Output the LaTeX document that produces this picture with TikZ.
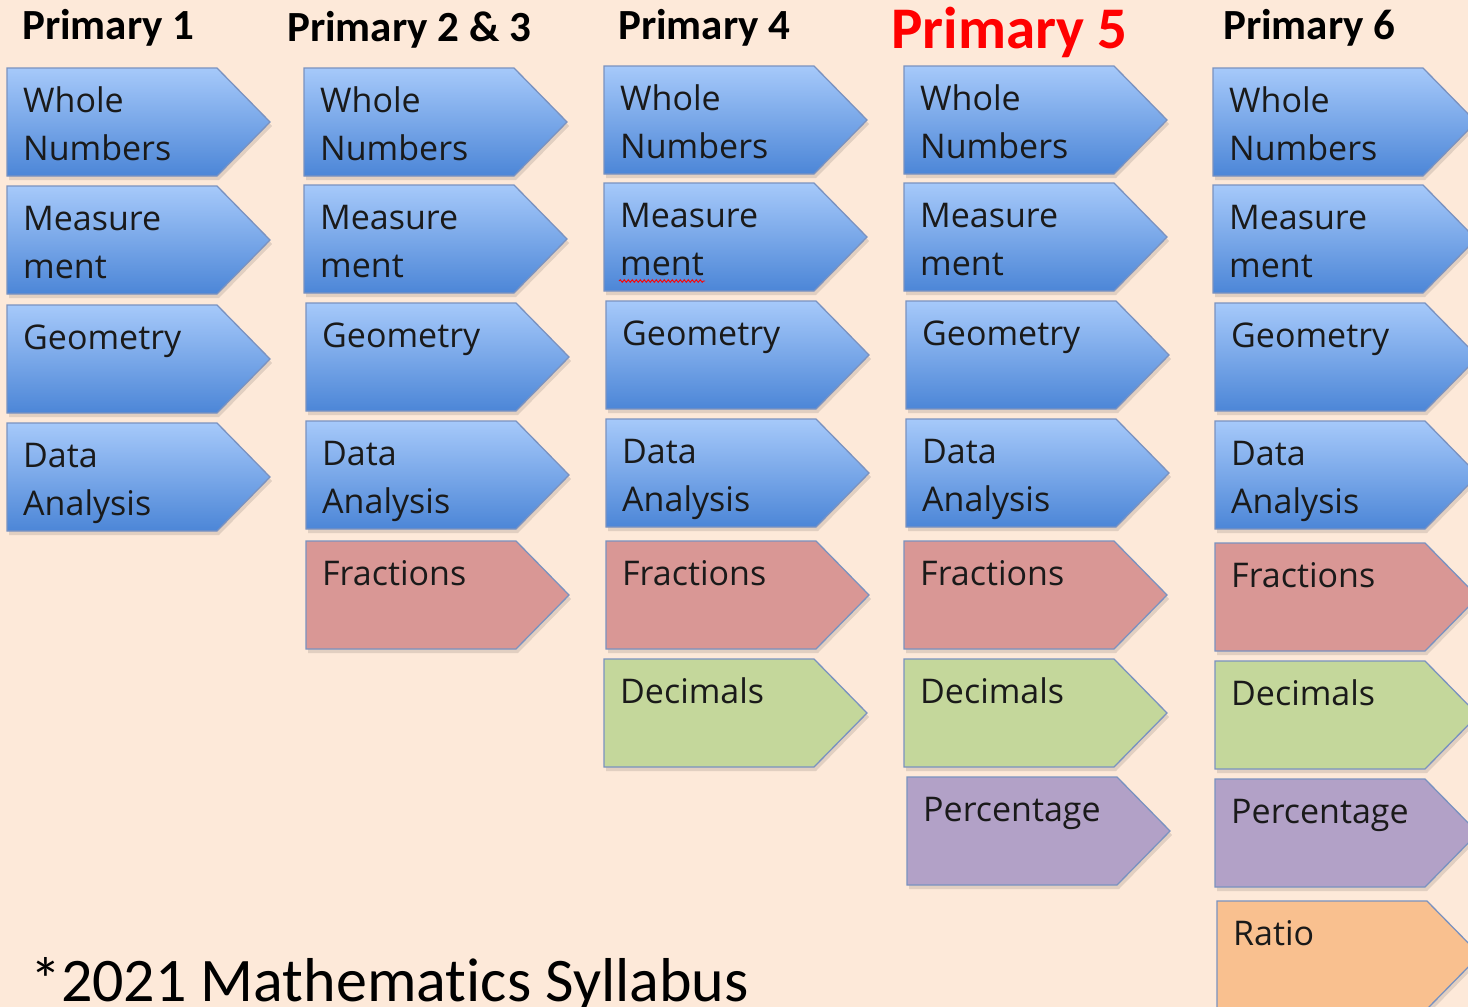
\documentclass[tikz,border=0pt]{standalone}
\usepackage{fontspec}
\setmainfont{Carlito}[Ligatures={NoCommon}]
\newfontfamily\boxfont{Open Sans}
\usetikzlibrary{decorations.pathmorphing}
\definecolor{bgc}{HTML}{FDE9D9}
\definecolor{bordc}{HTML}{7A92C0}
\definecolor{txtc}{HTML}{1A1A1A}
\definecolor{bluetop}{HTML}{A6C9FA}
\definecolor{bluemid}{HTML}{8AB4F1}
\definecolor{bluebot}{HTML}{4C86D7}
\definecolor{fraccol}{HTML}{D99795}
\definecolor{deccol}{HTML}{C4D79B}
\definecolor{perccol}{HTML}{B2A1C7}
\definecolor{ratiocol}{HTML}{F9C08F}
\definecolor{headred}{HTML}{FF0000}
\tikzset{
  bluefill/.style={top color=bluetop, middle color=bluemid, bottom color=bluebot},
  fracfill/.style={fill=fraccol},
  decfill/.style={fill=deccol},
  percfill/.style={fill=perccol},
  ratiofill/.style={fill=ratiocol},
  boxtxt/.style={anchor=north west, inner sep=0pt, align=left, text=txtc,
    font={\boxfont\fontsize{34}{48}\selectfont}},
  head/.style={anchor=base west, inner sep=0pt, font={\bfseries\fontsize{43}{48}\selectfont}, text=black},
}
\newcommand\tabbox[5]{%
  \begin{scope}[shift={(#2,#3)}]
    \fill[black, opacity=.11] (2,4) -- (212,4) -- (265,58) -- (212,112) -- (2,112) -- cycle;
    \path[#4, draw=bordc, line width=1.3pt, line join=miter]
      (0,0) -- (210,0) -- (263,54) -- (210,108) -- (0,108) -- cycle;
    \node[boxtxt] (#1) at (16,18) {\rule{0pt}{26pt}#5};
  \end{scope}}
\begin{document}
\begin{tikzpicture}[x=1pt, y=-1pt]
\fill[bgc] (0,0) rectangle (1468,1007);
\useasboundingbox (0,0) rectangle (1468,1007);
\clip (0,0) rectangle (1468,1007);

% headings
\node[head] (h1) at (22,39) {Primary 1};
\node[head] (h2) at (287,41) {Primary 2 \& 3};
\node[head] (h4) at (618,39) {Primary 4};
\node[head, text=headred, font={\bfseries\fontsize{59}{62}\selectfont}] (h5) at (891,48) {Primary 5};
\node[head] (h6) at (1223,39) {Primary 6};

% column 1
\tabbox{a1}{7}{68}{bluefill}{Whole\\Numbers}
\tabbox{a2}{7}{186}{bluefill}{Measure\\ment}
\tabbox{a3}{7}{305}{bluefill}{Geometry}
\tabbox{a4}{7}{423}{bluefill}{Data\\Analysis}

% column 2
\tabbox{b1}{304}{68}{bluefill}{Whole\\Numbers}
\tabbox{b2}{304}{185}{bluefill}{Measure\\ment}
\tabbox{b3}{306}{303}{bluefill}{Geometry}
\tabbox{b4}{306}{421}{bluefill}{Data\\Analysis}
\tabbox{b5}{306}{541}{fracfill}{Fractions}

% column 3
\tabbox{c1}{604}{66}{bluefill}{Whole\\Numbers}
\tabbox{c2}{604}{183}{bluefill}{Measure\\ment}
\tabbox{c3}{606}{301}{bluefill}{Geometry}
\tabbox{c4}{606}{419}{bluefill}{Data\\Analysis}
\tabbox{c5}{606}{541}{fracfill}{Fractions}
\tabbox{c6}{604}{659}{decfill}{Decimals}

% column 4
\tabbox{d1}{904}{66}{bluefill}{Whole\\Numbers}
\tabbox{d2}{904}{183}{bluefill}{Measure\\ment}
\tabbox{d3}{906}{301}{bluefill}{Geometry}
\tabbox{d4}{906}{419}{bluefill}{Data\\Analysis}
\tabbox{d5}{904}{541}{fracfill}{Fractions}
\tabbox{d6}{904}{659}{decfill}{Decimals}
\tabbox{d7}{907}{777}{percfill}{Percentage}

% column 5
\tabbox{e1}{1213}{68}{bluefill}{Whole\\Numbers}
\tabbox{e2}{1213}{185}{bluefill}{Measure\\ment}
\tabbox{e3}{1215}{303}{bluefill}{Geometry}
\tabbox{e4}{1215}{421}{bluefill}{Data\\Analysis}
\tabbox{e5}{1215}{543}{fracfill}{Fractions}
\tabbox{e6}{1215}{661}{decfill}{Decimals}
\tabbox{e7}{1215}{779}{percfill}{Percentage}
\tabbox{e8}{1217}{901}{ratiofill}{Ratio}

% spell-check squiggle under "ment" in Primary 4
\coordinate (sq1) at (619,281);
\coordinate (sq2) at (705,281);
\draw[red, line width=0.9pt, decorate, decoration={snake, amplitude=1.3pt, segment length=4pt}] (sq1) -- (sq2);

% footer
\node[anchor=base west, inner sep=0pt, font={\fontsize{62}{66}\selectfont}, text=black] (foot) at (30,1001) {*2021 Mathematics Syllabus};
\end{tikzpicture}
\end{document}
